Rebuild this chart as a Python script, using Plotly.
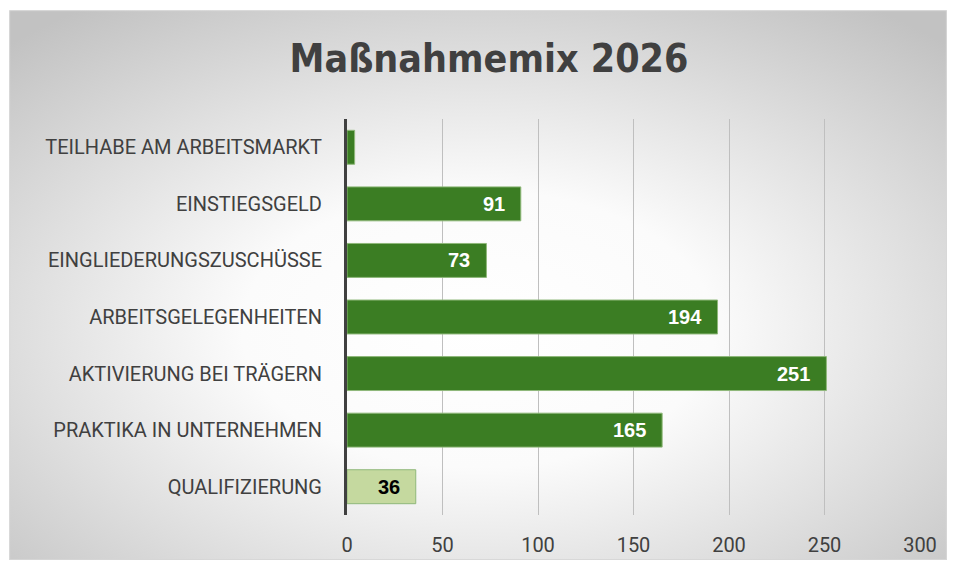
import base64
import plotly.graph_objects as go

categories = [
    "QUALIFIZIERUNG",
    "PRAKTIKA IN UNTERNEHMEN",
    "AKTIVIERUNG BEI TRÄGERN",
    "ARBEITSGELEGENHEITEN",
    "EINGLIEDERUNGSZUSCHÜSSE",
    "EINSTIEGSGELD",
    "TEILHABE AM ARBEITSMARKT",
]
values = [36, 165, 251, 194, 73, 91, 4]
labels = ["36", "165", "251", "194", "73", "91", ""]
bar_colors = ["#c5d99f", "#3b7d23", "#3b7d23", "#3b7d23", "#3b7d23", "#3b7d23", "#3b7d23"]
label_colors = ["#000000", "#ffffff", "#ffffff", "#ffffff", "#ffffff", "#ffffff", "#ffffff"]
x_ticks = [0, 50, 100, 150, 200, 250, 300]

# figure sits inside the page's 8px body margin; keep it inside the viewport
W, H = 941, 561
ML, MR, MT, MB = 339, 27, 111, 46

svg = f"""<svg xmlns='http://www.w3.org/2000/svg' width='{W}' height='{H}' viewBox='0 0 {W} {H}' preserveAspectRatio='none'>
<defs><radialGradient id='g' cx='50%' cy='58%' r='72%'>
<stop offset='0' stop-color='#ffffff'/><stop offset='0.35' stop-color='#fbfbfb'/>
<stop offset='1' stop-color='#c2c2c2'/></radialGradient></defs>
<rect width='{W}' height='{H}' fill='url(#g)'/>
<rect x='0.5' y='0.5' width='{W - 1}' height='{H - 1}' fill='none' stroke='#d6d6d6' stroke-width='1'/></svg>"""
src = "data:image/svg+xml;base64," + base64.b64encode(svg.encode()).decode()

pw, ph = W - ML - MR, H - MT - MB

fig = go.Figure(
    go.Bar(
        y=categories,
        x=values,
        orientation="h",
        width=0.6,
        marker=dict(color=bar_colors, line=dict(color="#8fb87a", width=1)),
        hoverinfo="skip",
    )
)

for cat, val, lab, col in zip(categories, values, labels, label_colors):
    if lab:
        fig.add_annotation(
            x=val, y=cat, xref="x", yref="y", text=lab, showarrow=False,
            xanchor="right", yanchor="middle", xshift=-14,
            font=dict(family="Liberation Sans", size=20, color=col, weight="bold"),
        )

fig.add_layout_image(
    dict(
        source=src,
        xref="paper", yref="paper",
        x=-ML / pw, y=1 + MT / ph,
        sizex=W / pw, sizey=H / ph,
        xanchor="left", yanchor="top",
        sizing="stretch", layer="below",
    )
)

fig.update_layout(
    width=W, height=H,
    margin=dict(l=ML, r=MR, t=MT, b=MB),
    paper_bgcolor="#ffffff",
    plot_bgcolor="rgba(0,0,0,0)",
    showlegend=False,
    title=dict(
        text="Maßnahmemix 2026",
        x=481 / W, xanchor="center",
        y=1 - 50 / H, yanchor="middle",
        font=dict(family="DejaVu Sans Condensed", size=39, color="#404040", weight="bold"),
    ),
    xaxis=dict(
        range=[0, 300], tickvals=x_ticks, showgrid=True, gridcolor="#bfbfbf", gridwidth=1,
        zeroline=False, showline=False, ticks="",
        tickfont=dict(family="Roboto", size=20, color="#404040"),
        ticklabelstandoff=16,
    ),
    yaxis=dict(
        categoryorder="array", categoryarray=categories,
        showgrid=False, zeroline=False, showline=True, linecolor="#404040", linewidth=3,
        ticks="",
        tickfont=dict(family="Roboto", size=20, color="#404040"),
        ticklabelstandoff=18,
    ),
)

fig.write_html("out.html")
